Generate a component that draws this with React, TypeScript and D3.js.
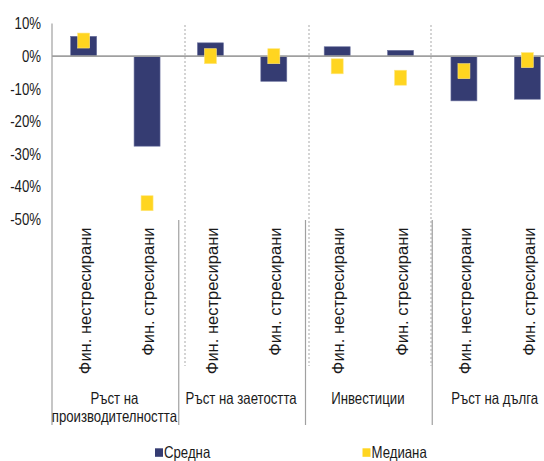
import React from "react";
import * as d3 from "d3";

// Categories, groups and series values
const groups = ["Ръст на|производителността", "Ръст на заетостта", "Инвестиции", "Ръст на дълга"];
const subLabels = ["Фин. нестресирани", "Фин. стресирани"];
const meanValues = [6.1, -27.6, 4.1, -7.7, 2.9, 1.8, -13.7, -13.2];
const medianValues = [4.8, -45.1, 0.0, 0.0, -3.1, -6.6, -4.6, -1.2];
const yTicks = [10, 0, -10, -20, -30, -40, -50];
const legendLabels = ["Средна", "Медиана"];

const W = 544;
const H = 461;
const NAVY = "#353C72";
const YELLOW = "#FFD520";
const FONT = "'Liberation Sans', Arial, sans-serif";
const FS = 16.5;
const SX = 0.8; // horizontal condensing of the upright text
const FS_ROT = 16.5;

const plotLeft = 52;
const plotRight = 559;
const catAxisBottom = 425;

const categories = d3.range(groups.length * subLabels.length);

const x = d3
  .scaleBand<number>()
  .domain(categories)
  .range([plotLeft, plotRight])
  .paddingInner(0.59)
  .paddingOuter(0.295);

const y = d3.scaleLinear().domain([-50, 10]).range([219.2, 23.6]);

const groupX = d3
  .scaleLinear()
  .domain([0, groups.length])
  .range([plotLeft, plotRight]);

// dotted separators in the plot area
const dottedX = [185, 309, 431];

function T({
  x: tx,
  y: ty,
  anchor = "start",
  children,
}: {
  x: number;
  y: number;
  anchor?: string;
  children: React.ReactNode;
}) {
  return (
    <text
      transform={`translate(${tx},${ty}) scale(${SX},1)`}
      textAnchor={anchor}
      dy="0.35em"
      fontFamily={FONT}
      fontSize={FS}
      fill="#1a1a1a"
    >
      {children}
    </text>
  );
}

export default function App() {
  const bw = x.bandwidth();
  const cx = (i: number) => (x(i) as number) + bw / 2;
  const mw = 12;
  const mh = 15;

  return (
    <svg width={W} height={H} style={{ position: "absolute", left: 0, top: 0, background: "#fff" }}>
      {/* dotted group dividers */}
      {dottedX.map((dx, i) => (
        <line
          key={"d" + i}
          x1={dx}
          x2={dx}
          y1={25}
          y2={366}
          stroke="#b8b8b8"
          strokeWidth={1.2}
          strokeDasharray="2,2"
        />
      ))}

      {/* mean bars */}
      {meanValues.map((v, i) => (
        <rect
          key={"b" + i}
          x={x(i)}
          y={y(Math.max(0, v))}
          width={bw}
          height={Math.abs(y(v) - y(0))}
          fill={NAVY}
          stroke="#6d73a0"
          strokeWidth={0.6}
        />
      ))}

      {/* zero line */}
      <line x1={plotLeft} x2={W} y1={y(0)} y2={y(0)} stroke="#a0a0a0" strokeWidth={1.8} />

      {/* median markers */}
      {medianValues.map((v, i) => (
        <rect
          key={"m" + i}
          x={cx(i) - mw / 2}
          y={y(v) - mh / 2}
          width={mw}
          height={mh}
          fill={YELLOW}
          stroke="#ffe680"
          strokeWidth={0.6}
        />
      ))}

      {/* value axis */}
      <line x1={plotLeft} x2={plotLeft} y1={y(10)} y2={catAxisBottom} stroke="#a0a0a0" strokeWidth={1.2} />
      {yTicks.map((t) => (
        <T key={"t" + t} x={41} y={y(t)} anchor="end">
          {`${t}%`}
        </T>
      ))}

      {/* group separators on the category axis */}
      {d3.range(1, groups.length).map((g) => (
        <line
          key={"s" + g}
          x1={groupX(g)}
          x2={groupX(g)}
          y1={220}
          y2={catAxisBottom}
          stroke="#a0a0a0"
          strokeWidth={1.2}
        />
      ))}

      {/* sub-category labels, reading upwards */}
      {categories.map((i) => (
        <text
          key={"c" + i}
          transform={`translate(${cx(i) + 1.5},227.5) rotate(-90)`}
          textAnchor="end"
          dy="0.35em"
          fontFamily={FONT}
          fontSize={FS_ROT}
          fill="#1a1a1a"
        >
          {subLabels[i % subLabels.length]}
        </text>
      ))}

      {/* group labels */}
      {groups.map((g, gi) => {
        const lines = g.split("|");
        const gx = (groupX(gi) + groupX(gi + 1)) / 2 - 1;
        return lines.map((ln, li) => (
          <T key={"g" + gi + "-" + li} x={gx} y={398 + li * 18.7} anchor="middle">
            {ln}
          </T>
        ));
      })}

      {/* legend */}
      <rect x={155} y={448.3} width={8} height={8.5} fill={NAVY} />
      <T x={164} y={452.5}>{legendLabels[0]}</T>
      <rect x={362.5} y={448.3} width={8} height={8.5} fill={YELLOW} />
      <T x={371.5} y={452.5}>{legendLabels[1]}</T>
    </svg>
  );
}
